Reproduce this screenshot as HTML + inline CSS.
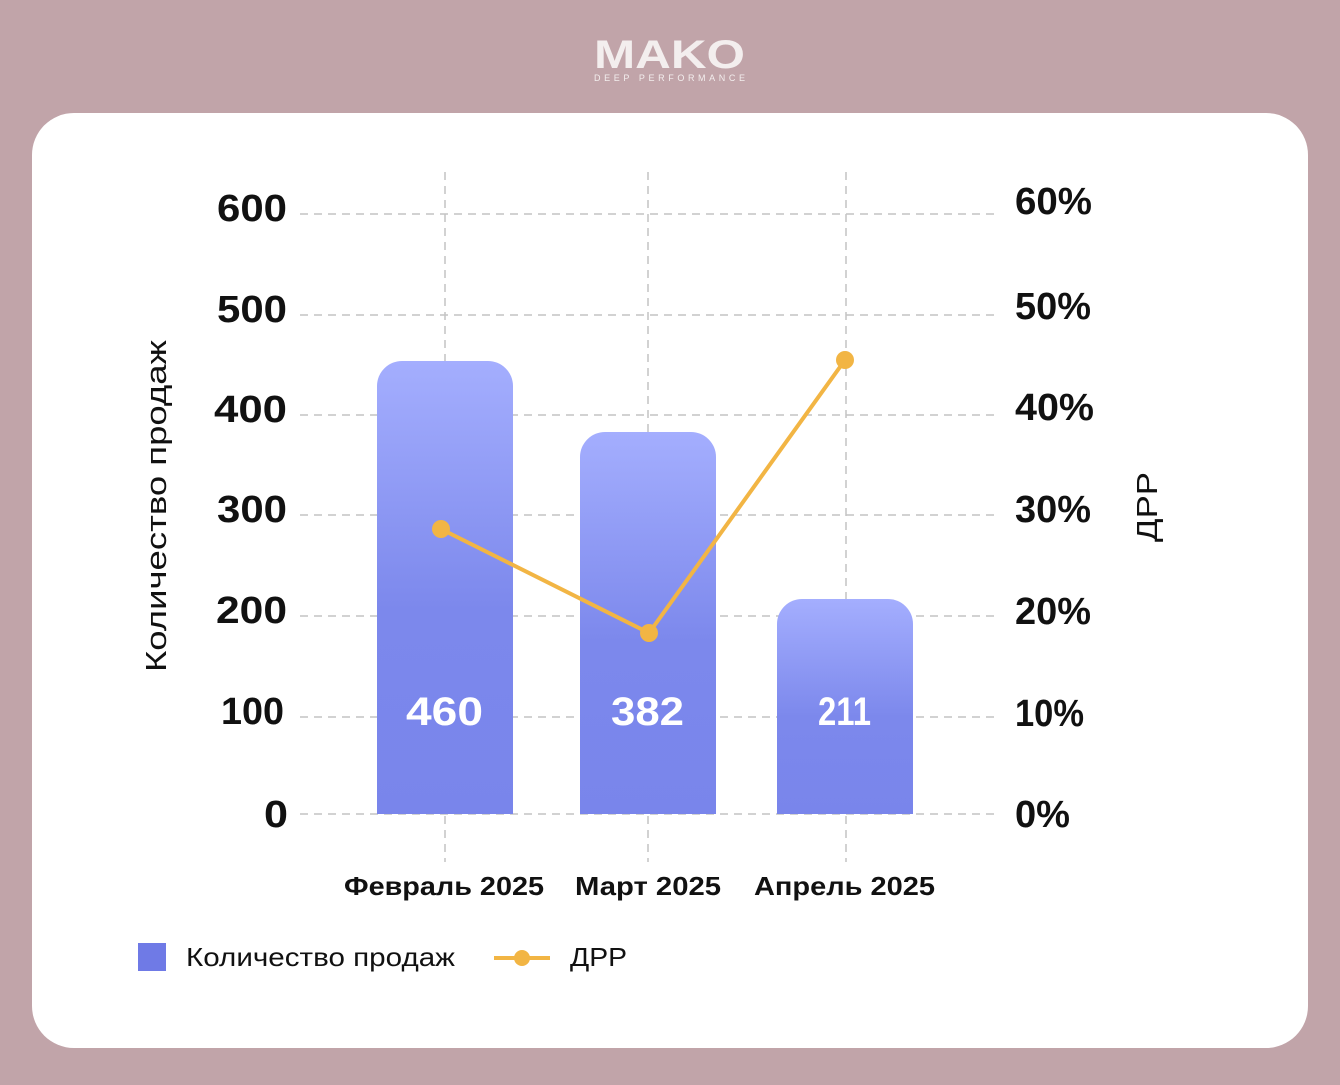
<!DOCTYPE html>
<html><head><meta charset="utf-8"><style>
body{margin:0;width:1340px;height:1085px;background:#c1a4a9;overflow:hidden;font-family:"Liberation Sans",sans-serif}
</style></head><body>
<svg width="1340" height="1085" xmlns="http://www.w3.org/2000/svg" style="position:absolute;left:0;top:0">
<defs>
<linearGradient id="g" x1="0" y1="0" x2="0" y2="1">
<stop offset="0" stop-color="#a4aefe"/><stop offset="0.55" stop-color="#7c88ec"/><stop offset="1" stop-color="#7985eb"/>
</linearGradient>
</defs>
<text x="594" y="68" font-size="40" font-weight="bold" fill="#f3eeee" textLength="151" lengthAdjust="spacingAndGlyphs">MAKO</text>
<text x="594" y="81" font-size="9" fill="#f3eeee" textLength="151" lengthAdjust="spacing">DEEP PERFORMANCE</text>
<rect x="32" y="113" width="1276" height="935" rx="42" fill="#fff"/>
<g stroke="#c4c4c4" stroke-width="1.5" stroke-dasharray="8,6">
<line x1="300" y1="214" x2="995" y2="214"/><line x1="300" y1="315" x2="995" y2="315"/>
<line x1="300" y1="415" x2="995" y2="415"/><line x1="300" y1="515" x2="995" y2="515"/>
<line x1="300" y1="616" x2="995" y2="616"/><line x1="300" y1="717" x2="995" y2="717"/>
<line x1="300" y1="814" x2="995" y2="814"/>
<line x1="445" y1="172" x2="445" y2="862"/><line x1="648" y1="172" x2="648" y2="862"/><line x1="846" y1="172" x2="846" y2="862"/>
</g>
<path d="M377 814V386a25 25 0 0 1 25-25h86a25 25 0 0 1 25 25V814Z" fill="url(#g)"/>
<path d="M580 814V457a25 25 0 0 1 25-25h86a25 25 0 0 1 25 25V814Z" fill="url(#g)"/>
<path d="M777 814V624a25 25 0 0 1 25-25h86a25 25 0 0 1 25 25V814Z" fill="url(#g)"/>
<g font-size="40" font-weight="bold" fill="#fff">
<text x="406" y="725" textLength="77" lengthAdjust="spacingAndGlyphs">460</text>
<text x="611" y="725" textLength="73" lengthAdjust="spacingAndGlyphs">382</text>
<text x="818" y="725" textLength="53" lengthAdjust="spacingAndGlyphs">211</text>
</g>
<polyline points="441,529 649,633 845,360" fill="none" stroke="#f2b544" stroke-width="4"/>
<g fill="#f2b544"><circle cx="441" cy="529" r="9"/><circle cx="649" cy="633" r="9"/><circle cx="845" cy="360" r="9"/></g>
<g font-size="38" font-weight="bold" fill="#111">
<text x="217" y="221" textLength="70" lengthAdjust="spacingAndGlyphs">600</text>
<text x="217" y="322" textLength="70" lengthAdjust="spacingAndGlyphs">500</text>
<text x="214" y="422" textLength="73" lengthAdjust="spacingAndGlyphs">400</text>
<text x="217" y="522" textLength="70" lengthAdjust="spacingAndGlyphs">300</text>
<text x="216" y="623" textLength="71" lengthAdjust="spacingAndGlyphs">200</text>
<text x="221" y="724" textLength="63" lengthAdjust="spacingAndGlyphs">100</text>
<text x="264" y="827" textLength="24" lengthAdjust="spacingAndGlyphs">0</text>
</g>
<g font-size="38" font-weight="bold" fill="#111">
<text x="1015" y="214" textLength="77" lengthAdjust="spacingAndGlyphs">60%</text>
<text x="1015" y="319" textLength="76" lengthAdjust="spacingAndGlyphs">50%</text>
<text x="1015" y="420" textLength="79" lengthAdjust="spacingAndGlyphs">40%</text>
<text x="1015" y="522" textLength="76" lengthAdjust="spacingAndGlyphs">30%</text>
<text x="1015" y="624" textLength="76" lengthAdjust="spacingAndGlyphs">20%</text>
<text x="1015" y="726" textLength="69" lengthAdjust="spacingAndGlyphs">10%</text>
<text x="1015" y="827" textLength="55" lengthAdjust="spacingAndGlyphs">0%</text>
</g>
<text transform="translate(166,672) rotate(-90)" font-size="29" fill="#111" textLength="332" lengthAdjust="spacingAndGlyphs">Количество продаж</text>
<text transform="translate(1157,542) rotate(-90)" font-size="29" fill="#111" textLength="70" lengthAdjust="spacingAndGlyphs">ДРР</text>
<g font-size="26" font-weight="bold" fill="#111">
<text x="344" y="895" textLength="200" lengthAdjust="spacingAndGlyphs">Февраль 2025</text>
<text x="575" y="895" textLength="146" lengthAdjust="spacingAndGlyphs">Март 2025</text>
<text x="754" y="895" textLength="181" lengthAdjust="spacingAndGlyphs">Апрель 2025</text>
</g>
<rect x="138" y="943" width="28" height="28" fill="#6f7ae6"/>
<text x="186" y="966" font-size="26" fill="#111" textLength="269" lengthAdjust="spacingAndGlyphs">Количество продаж</text>
<line x1="494" y1="958" x2="550" y2="958" stroke="#f2b544" stroke-width="4"/>
<circle cx="522" cy="958" r="8" fill="#f2b544"/>
<text x="570" y="966" font-size="26" fill="#111" textLength="57" lengthAdjust="spacingAndGlyphs">ДРР</text>
</svg>
</body></html>
